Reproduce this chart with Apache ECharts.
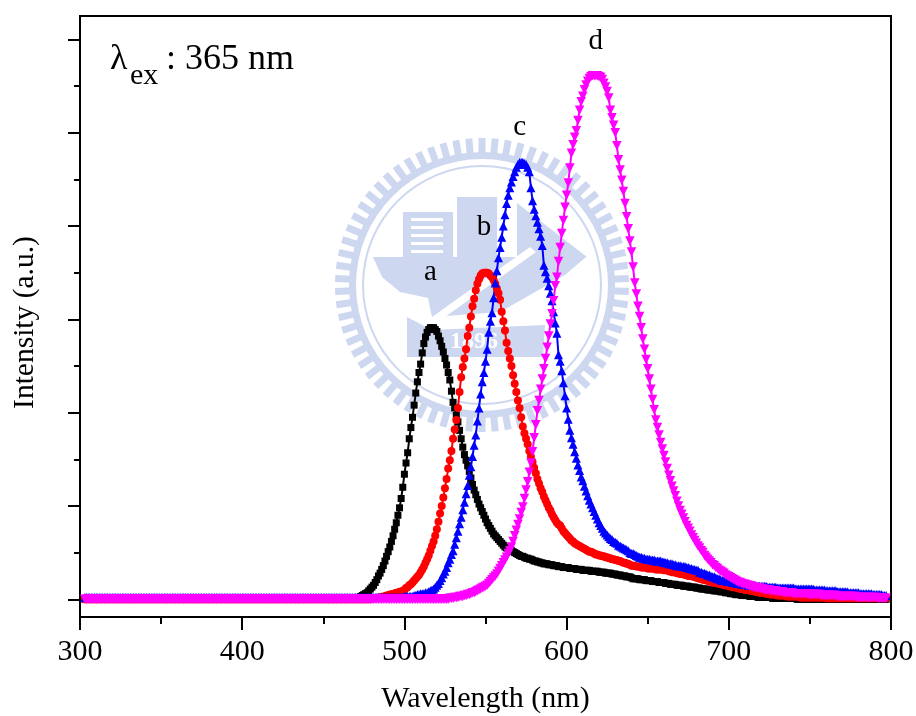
<!DOCTYPE html>
<html>
<head>
<meta charset="utf-8">
<style>
html, body { margin: 0; padding: 0; background: #fff; }
#chart { width: 916px; height: 716px; }
</style>
<script src="https://cdn.jsdelivr.net/npm/echarts@6/dist/echarts.min.js"></script>
</head>
<body>
<div id="chart"></div>
<script>
// wavelengths (nm), one point per nm
const baseWave = [
  303,304,305,306,307,308,309,
  310,311,312,313,314,315,316,317,318,319,
  320,321,322,323,324,325,326,327,328,329,
  330,331,332,333,334,335,336,337,338,339,
  340,341,342,343,344,345,346,347,348,349,
  350,351,352,353,354,355,356,357,358,359,
  360,361,362,363,364,365,366,367,368,369,
  370,371,372,373,374,375,376,377,378,379,
  380,381,382,383,384,385,386,387,388,389,
  390,391,392,393,394,395,396,397,398,399,
  400,401,402,403,404,405,406,407,408,409,
  410,411,412,413,414,415,416,417,418,419,
  420,421,422,423,424,425,426,427,428,429,
  430,431,432,433,434,435,436,437,438,439,
  440,441,442,443,444,445,446,447,448,449,
  450,451,452,453,454,455,456,457,458,459,
  460,461,462,463,464,465,466,467,468,469
]
const baseValues = [
  0,0,0,0,0,0,0,
  0,0,0,0,0,0,0,0,0,0,
  0,0,0,0,0,0,0,0,0,0,
  0,0,0,0,0,0,0,0,0,0,
  0,0,0,0,0,0,0,0,0,0,
  0,0,0,0,0,0,0,0,0,0,
  0,0,0,0,0,0,0,0,0,0,
  0,0,0,0,0,0,0,0,0,0,
  0,0,0,0,0,0,0,0,0,0,
  0,0,0,0,0,0,0,0,0,0,
  0,0,0,0,0,0,0,0,0,0,
  0,0,0,0,0,0,0,0,0,0,
  0,0,0,0,0,0,0,0,0,0,
  0,0,0,0,0,0,0,0,0,0,
  0,0,0,0,0,0,0,0,0,0,
  0,0,0,0,0,0,0,0,0,0,
  0,0,0,0,0,0,0,0,0,0
]
// curve c sits a touch higher on the baseline
const baseValuesC = [
  2,2,2,2,2,2,2,
  2,2,2,2,2,2,2,2,2,2,
  2,2,2,2,2,2,2,2,2,2,
  2,2,2,2,2,2,2,2,2,2,
  2,2,2,2,2,2,2,2,2,2,
  2,2,2,2,2,2,2,2,2,2,
  2,2,2,2,2,2,2,2,2,2,
  2,2,2,2,2,2,2,2,2,2,
  2,2,2,2,2,2,2,2,2,2,
  2,2,2,2,2,2,2,2,2,2,
  2,2,2,2,2,2,2,2,2,2,
  2,2,2,2,2,2,2,2,2,2,
  2,2,2,2,2,2,2,2,2,2,
  2,2,2,2,2,2,2,2,2,2,
  2,2,2,2,2,2,2,2,2,2,
  2,2,2,2,2,2,2,2,2,2,
  2,2,2,2,2,2,2,2,2,2
]
const peakWave = [
  470,471,472,473,474,475,476,477,478,479,
  480,481,482,483,484,485,486,487,488,489,
  490,491,492,493,494,495,496,497,498,499,
  500,501,502,503,504,505,506,507,508,509,
  510,511,512,513,514,515,516,517,518,519,
  520,521,522,523,524,525,526,527,528,529,
  530,531,532,533,534,535,536,537,538,539,
  540,541,542,543,544,545,546,547,548,549,
  550,551,552,553,554,555,556,557,558,559,
  560,561,562,563,564,565,566,567,568,569,
  570,571,572,573,574,575,576,577,578,579,
  580,581,582,583,584,585,586,587,588,589,
  590,591,592,593,594,595,596,597,598,599,
  600,601,602,603,604,605,606,607,608,609,
  610,611,612,613,614,615,616,617,618,619,
  620,621,622,623,624,625,626,627,628,629,
  630,631,632,633,634,635,636,637,638,639,
  640,641,642,643,644,645,646,647,648,649,
  650,651,652,653,654,655,656,657,658,659,
  660,661,662,663,664,665,666,667,668,669,
  670,671,672,673,674,675,676,677,678,679,
  680,681,682,683,684,685,686,687,688,689,
  690,691,692,693,694,695,696,697,698,699,
  700,701,702,703,704,705,706,707,708,709,
  710,711,712,713,714,715,716,717,718,719,
  720,
  721,722,723,724,725,726,727,728,729,
  730,731,732,733,734,735,736,737,738,739,
  740,741,742,743,744,745,746,747,748,749,
  750,751,752,753,754,755,756,757,758,759,
  760,761,762,763,764,765,766,767,768,769,
  770,771,772,773,774,775,776,777,778,779,
  780,781,782,783,784,785,786,787,788,789,
  790,791,792,793,794,795,796,797
]

const seriesA = [
  1,1,2,3,4,5,6,7,9,11,
  13,15,18,21,25,28,32,36,41,46,
  51,56,62,68,75,82,90,98,108,120,
  134,146,157,172,184,195,208,221,233,243,
  252,264,274,281,286,289,291,291,291,289,
  287,282,277,271,265,258,251,243,235,223,
  211,205,197,190,181,172,163,155,149,143,
  137,130,123,117,112,107,102,98,94,90,
  86,82,79,76,73,70,68,66,64,62,
  60,58,56,55,54,53,52,51,50,49,
  48,47,46,46,45,44,44,43,43,42,
  41,41,40,40,39,39,38,38,38,37,
  37,37,36,36,36,35,35,35,34,34,
  34,34,33,33,33,33,32,32,32,32,
  31,31,31,31,31,30,30,30,30,30,
  29,29,29,29,28,28,28,28,27,27,
  27,26,26,26,25,25,25,24,24,24,
  23,22,22,22,22,21,21,21,21,20,
  20,20,20,19,19,19,19,18,18,18,
  18,17,17,17,16,16,16,16,15,15,
  15,15,14,14,14,14,13,13,13,13,
  12,12,12,11,11,11,11,10,10,10,
  10,9,9,9,9,8,8,8,7,7,
  7,6,6,6,5,5,5,5,4,4,
  4,4,4,3,3,3,3,3,2,2,
  2,
  2,2,2,2,2,2,1,1,1,
  1,1,1,1,1,1,1,1,1,1,
  1,1,0,0,0,0,0,0,0,0,
  0,0,0,0,0,0,0,0,0,0,
  0,0,0,0,0,0,0,0,0,0,
  0,0,0,0,0,0,0,0,0,0,
  0,0,0,0,0,0,0,0,0,0,
  0,0,0,0,0,0,0,0
]
const seriesB = [
  0,0,0,0,0,0,0,0,0,0,
  1,1,1,1,2,2,2,3,3,4,
  4,5,5,6,6,7,7,8,8,9,
  10,12,13,15,16,18,20,22,24,26,
  29,32,35,39,43,47,52,57,62,68,
  75,83,92,100,109,119,129,140,149,159,
  172,182,192,205,222,238,249,258,268,282,
  291,303,314,322,331,338,343,347,349,350,
  350,350,349,347,345,342,338,333,328,321,
  308,298,288,275,266,258,250,240,231,222,
  213,205,195,185,178,172,166,159,153,147,
  141,135,129,124,119,115,110,106,102,98,
  95,91,88,85,82,80,79,76,73,71,
  69,67,65,63,62,60,59,58,57,56,
  55,54,53,52,51,51,50,49,48,48,
  47,47,46,46,45,45,44,44,43,43,
  42,42,41,41,40,39,39,38,38,37,
  36,36,36,35,35,35,34,34,34,34,
  33,33,33,33,33,32,32,32,32,32,
  31,31,31,30,30,29,29,29,28,28,
  27,27,27,26,26,25,25,25,24,24,
  23,23,22,22,21,21,20,20,19,19,
  18,18,18,17,17,16,16,15,15,15,
  14,14,13,13,13,12,12,11,11,11,
  10,10,10,9,9,9,8,8,8,7,
  7,
  7,7,6,6,6,5,5,5,5,
  4,4,4,4,4,4,3,3,3,3,
  3,3,3,3,2,2,2,2,2,2,
  2,2,2,2,2,2,2,2,2,2,
  1,1,1,1,1,1,1,1,1,1,
  1,1,1,1,1,1,1,1,1,1,
  1,1,1,1,1,1,1,1,1,1,
  1,1,1,1,1,1,1,1
]
const seriesC = [
  2,2,2,2,2,2,2,2,2,2,
  2,2,2,2,2,2,2,2,2,2,
  2,2,2,2,2,2,2,2,2,2,
  3,3,3,3,3,3,4,4,5,5,
  6,6,6,7,7,8,9,10,11,13,
  15,17,20,23,27,30,34,39,43,48,
  52,59,66,73,81,88,96,104,113,122,
  133,142,153,165,176,191,205,220,233,243,
  255,268,286,298,307,323,339,352,366,377,
  388,400,412,424,433,441,447,453,458,463,
  466,468,468,468,467,466,463,458,441,427,
  418,411,404,397,389,379,358,351,344,336,
  328,320,308,296,285,262,255,245,232,218,
  205,193,181,173,166,158,151,144,138,131,
  127,121,116,111,106,102,98,94,90,86,
  82,79,76,73,71,69,67,65,64,62,
  61,60,58,57,56,55,54,53,52,50,
  49,49,48,47,46,45,45,44,44,43,
  43,43,42,42,42,41,41,41,41,40,
  40,39,39,38,38,38,37,37,36,36,
  36,35,35,35,34,34,33,33,32,32,
  31,31,29,29,28,28,27,26,26,25,
  24,24,23,22,22,21,20,20,20,19,
  19,19,18,18,18,17,17,17,16,16,
  16,16,15,15,15,15,15,14,14,14,
  14,
  14,14,14,13,13,13,13,13,13,
  12,12,12,12,12,12,12,12,12,12,
  12,11,11,11,11,11,11,11,11,11,
  11,11,11,10,10,10,10,10,10,10,
  9,9,9,9,9,9,9,8,8,8,
  8,8,8,8,7,7,7,7,7,7,
  7,6,6,6,6,6,6,6,6,5,
  5,5,5,5,5,4,4,4
]
const seriesD = [
  0,0,0,0,0,0,0,0,0,0,
  0,0,0,0,0,0,0,0,0,0,
  0,0,0,0,0,0,0,0,0,0,
  0,0,0,0,0,0,0,0,0,0,
  0,0,0,0,0,0,0,0,0,0,
  0,0,0,0,0,0,0,0,1,1,
  1,2,2,2,3,3,3,4,4,5,
  5,6,7,7,8,9,10,11,12,13,
  14,15,17,19,21,23,25,27,30,33,
  36,39,42,45,49,52,56,62,68,74,
  80,86,93,99,108,117,126,136,146,158,
  173,187,202,213,225,236,247,258,270,282,
  295,306,320,336,345,362,377,392,406,420,
  433,446,462,478,487,495,502,513,524,533,
  539,546,551,555,558,560,561,561,561,561,
  560,559,557,553,549,544,537,524,516,508,
  500,486,471,460,449,437,424,410,397,384,
  372,356,339,327,314,303,291,279,268,257,
  247,236,225,214,203,192,184,176,168,161,
  154,147,140,133,127,121,116,111,105,100,
  95,91,87,83,79,76,73,69,66,63,
  60,57,55,52,50,47,45,43,41,39,
  37,36,34,33,31,30,29,28,26,25,
  24,23,22,21,20,19,18,18,17,16,
  16,15,15,14,14,13,13,12,12,12,
  11,
  11,10,10,10,10,9,9,9,9,
  8,8,8,8,7,7,7,7,7,7,
  6,6,6,6,6,6,6,6,6,5,
  5,5,5,5,5,5,5,4,4,4,
  4,4,4,4,4,4,4,3,3,3,
  3,3,3,3,3,3,3,3,3,2,
  2,2,2,2,2,2,2,2,2,2,
  2,2,1,1,1,1,1,1
]

// curve labels, placed in data coordinates
const labelNames = ['a', 'b', 'c', 'd']
const labelWave = [516, 549, 571, 618]
const labelValues = [350, 398, 506, 598]

const majorTicks = [0, 100, 200, 300, 400, 500, 600]
const minorTicks = [50, 150, 250, 350, 450, 550]

const fontFamily = '"Liberation Serif", "Times New Roman", serif'
const wave = baseWave.concat(peakWave)

function toPairs(values, base) {
  return base.concat(values).map((v, i) => [wave[i], v])
}

// 背景校徽水印
const logoColor = '#cdd7ef'
function logoElements() {
  const items = []
  for (let i = 0; i < 70; i++) {
    items.push({
      type: 'rect', x: 482, y: 285, rotation: i * Math.PI / 35,
      shape: { x: -3.5, y: -147, width: 7, height: 18 },
      style: { fill: logoColor }
    })
  }
  items.push(
    { type: 'ring', shape: { cx: 482, cy: 285, r: 133, r0: 126 }, style: { fill: logoColor } },
    { type: 'ring', shape: { cx: 482, cy: 285, r: 120, r0: 118 }, style: { fill: logoColor } },
    { type: 'polygon', shape: { points: [[373,257],[586,257],[565,275],[500,312],[432,317],[428,298],[400,292],[382,277]] }, style: { fill: logoColor } },
    { type: 'rect', shape: { x: 403, y: 212, width: 50, height: 45 }, style: { fill: logoColor } },
    { type: 'rect', shape: { x: 457, y: 197, width: 40, height: 60 }, style: { fill: logoColor } },
    { type: 'polygon', shape: { points: [[517,203],[587,257],[517,257]] }, style: { fill: logoColor } },
    { type: 'polygon', shape: { points: [[407,317],[432,330],[545,325],[543,357],[407,357]] }, style: { fill: logoColor } },
    { type: 'polygon', shape: { points: [[425,322],[530,247],[536,252],[431,327]] }, style: { fill: '#ffffff' } },
    { type: 'text', x: 474, y: 342, style: { text: '1896', fill: '#ffffff', font: 'bold 24px ' + fontFamily, textAlign: 'center', textVerticalAlign: 'middle' } }
  )
  for (let i = 0; i < 5; i++) {
    items.push({ type: 'rect', shape: { x: 411, y: 218 + i * 8, width: 32, height: 3 }, style: { fill: '#ffffff' } })
  }
  return items
}

function lineSeries(name, values, base, color, symbol, size, rotate) {
  return {
    name, type: 'line', data: toPairs(values, base),
    symbol, symbolSize: size, symbolRotate: rotate || 0,
    showAllSymbol: true, animation: false, silent: true,
    lineStyle: { color, width: 2 },
    itemStyle: { color }
  }
}

const chart = echarts.init(document.getElementById('chart'), null, { renderer: 'canvas' })
chart.setOption({
  animation: false,
  backgroundColor: '#ffffff',
  grid: { show: true, left: 80, right: 25, top: 16, bottom: 99, outerBoundsMode: 'none', borderColor: '#000', borderWidth: 2, backgroundColor: 'transparent' },
  xAxis: {
    type: 'value', min: 300, max: 800, interval: 100,
    name: 'Wavelength (nm)', nameLocation: 'middle', nameGap: 67,
    nameTextStyle: { fontFamily, fontSize: 30, color: '#000' },
    axisLine: { onZero: false, lineStyle: { color: '#000', width: 2 } },
    axisTick: { inside: false, length: 13, lineStyle: { color: '#000', width: 2 } },
    minorTick: { show: true, splitNumber: 2, length: 7, lineStyle: { color: '#000', width: 2 } },
    axisLabel: { fontFamily, fontSize: 30, color: '#000', margin: 20 },
    splitLine: { show: false }
  },
  yAxis: [
    {
      type: 'value', min: -19, max: 625,
      name: 'Intensity (a.u.)', nameLocation: 'middle', nameGap: 40,
      nameTextStyle: { fontFamily, fontSize: 29.5, color: '#000', padding: [0, 12, 0, 0] },
      axisLine: { onZero: false, lineStyle: { color: '#000', width: 2 } },
      axisTick: { customValues: majorTicks, length: 12, lineStyle: { color: '#000', width: 2 } },
      axisLabel: { show: false },
      splitLine: { show: false }
    },
    {
      type: 'value', min: -19, max: 625, position: 'left',
      axisLine: { show: false, onZero: false },
      axisTick: { customValues: minorTicks, length: 6, lineStyle: { color: '#000', width: 2 } },
      axisLabel: { show: false },
      splitLine: { show: false }
    }
  ],
  graphic: [
    { type: 'group', z: -10, silent: true, children: logoElements() },
    { type: 'text', x: 110, y: 78, style: { text: 'λ', font: '36px ' + fontFamily, fill: '#000', textVerticalAlign: 'bottom' } },
    { type: 'text', x: 130, y: 91, style: { text: 'ex', font: '30px ' + fontFamily, fill: '#000', textVerticalAlign: 'bottom' } },
    { type: 'text', x: 166, y: 78, style: { text: ': 365 nm', font: '36px ' + fontFamily, fill: '#000', textVerticalAlign: 'bottom' } }
  ],
  series: [
    lineSeries('a', seriesA, baseValues, '#000000', 'rect', 7),
    lineSeries('b', seriesB, baseValues, '#ff0000', 'circle', 8),
    lineSeries('c', seriesC, baseValuesC, '#0000ff', 'triangle', 9),
    lineSeries('d', seriesD, baseValues, '#ff00ff', 'triangle', 9.5, 180),
    {
      type: 'scatter', symbolSize: 0, silent: true,
      itemStyle: { opacity: 1 },
      data: labelWave.map((x, i) => [x, labelValues[i], labelNames[i]]),
      label: {
        show: true, position: 'inside', formatter: p => p.data[2],
        fontFamily, fontSize: 29, color: '#000', opacity: 1
      }
    }
  ]
})
</script>
</body>
</html>
